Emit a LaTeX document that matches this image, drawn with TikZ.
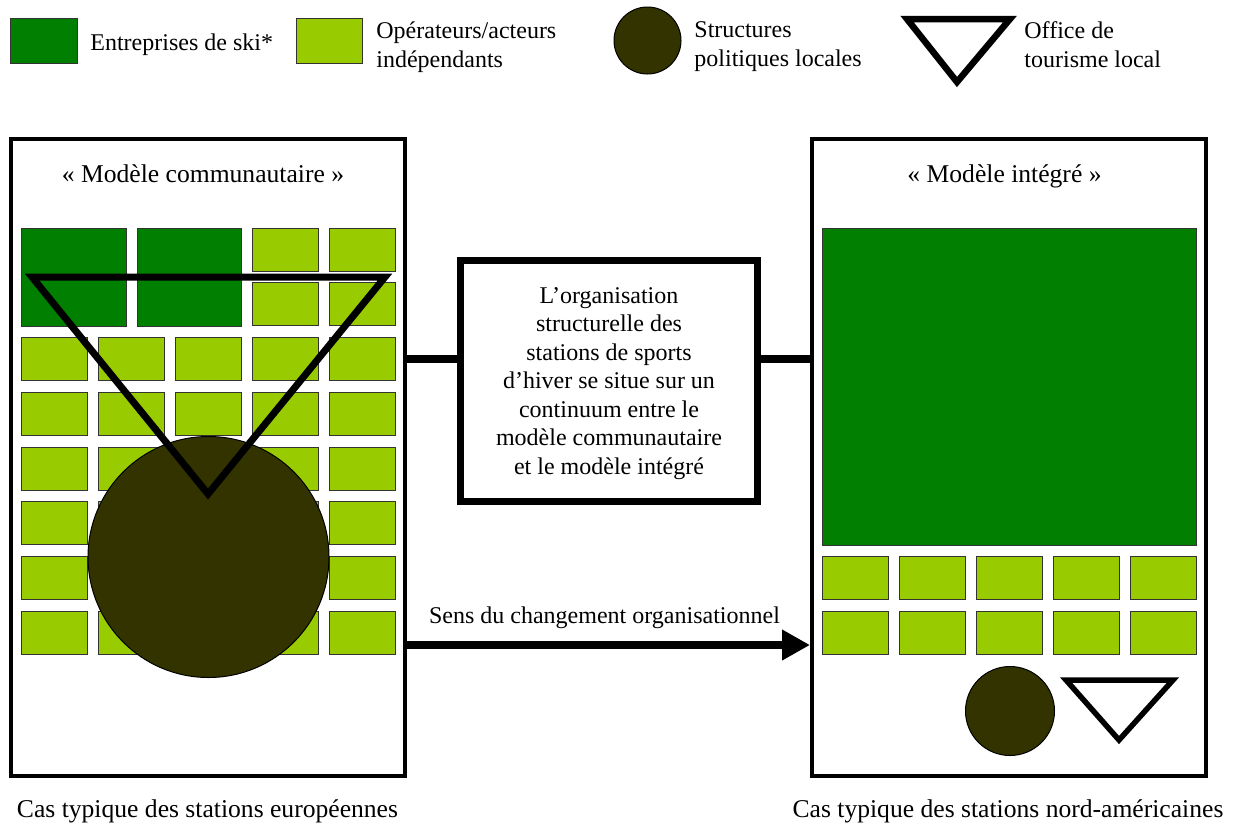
\documentclass[tikz,border=0pt]{standalone}
\usepackage{fontspec}
\setmainfont{Liberation Serif}
\usetikzlibrary{arrows.meta}
\definecolor{dgreen}{HTML}{007F00}
\definecolor{lgreen}{HTML}{99CC00}
\definecolor{brownish}{HTML}{333300}
\begin{document}
\begin{tikzpicture}[x=0.5pt,y=-0.5pt, font=\fontsize{12}{14.25}\selectfont,
 lbl/.style={inner sep=0pt},
 big/.style={inner sep=0pt, font=\fontsize{12.8}{15}\selectfont},
 frame/.style={draw, line width=2pt, rectangle, minimum width=197pt, minimum height=318.5pt, inner sep=0pt},
 ent/.style={draw=black!80, line width=0.6pt, fill=dgreen, rectangle, inner sep=0pt},
 opr/.style={draw=black!80, line width=0.6pt, fill=lgreen, rectangle, inner sep=0pt, minimum width=33pt, minimum height=21.5pt},
 pol/.style={draw=black, line width=0.5pt, fill=brownish, circle, inner sep=0pt},
 tri/.style={draw, line width=3.5pt, line join=miter},
 conn/.style={line width=4pt}
]
\useasboundingbox (0,0) rectangle (1236,825);

% legend
\node[ent, anchor=north west, minimum width=33.5pt, minimum height=22.5pt] (k1) at (10,18) {};
\node[lbl, anchor=base west] (k1t) at (90,50) {Entreprises de ski*};
\node[opr, anchor=north west, minimum width=33pt, minimum height=22.5pt] (k2) at (296,18) {};
\node[lbl, anchor=base west, align=left] (k2t) at (376,67) {Opérateurs/acteurs\\indépendants};
\node[pol, minimum size=33.5pt] (k3) at (647.5,40.5) {};
\node[lbl, anchor=base west, align=left] (k3t) at (694,66) {Structures\\politiques locales};
\draw[tri, line width=3.25pt] (907,19) -- (1010,19) -- (957,82) -- cycle;
\node[lbl, anchor=base west, align=left] (k4t) at (1024,67) {Office de\\tourisme local};

% left model
\foreach \r [count=\i] in {337,392,447,501,556,611}
  \foreach \c [count=\j] in {21,98,175,252,329}
    \node[opr, anchor=north west] (L\i-\j) at (\c,\r) {};
\node[ent, anchor=north west, minimum width=52.5pt, minimum height=49pt] (E1) at (21,228) {};
\node[ent, anchor=north west, minimum width=52pt, minimum height=49pt] (E2) at (137,228) {};
\node[opr, anchor=north west] (T1) at (252,228) {};
\node[opr, anchor=north west] (T2) at (329,228) {};
\node[opr, anchor=north west] (T3) at (252,282) {};
\node[opr, anchor=north west] (T4) at (329,282) {};
\node[pol, minimum size=120.5pt] (P1) at (208.5,557) {};
\draw[tri] (32,277) -- (385,277) -- (208,494) -- cycle;
\node[frame] (lbox) at (208,457.5) {};
\node[big, anchor=base] (t1) at (203,182) {« Modèle communautaire »};

% right model
\node[ent, anchor=north west, minimum width=187pt, minimum height=158.5pt] (EB) at (822,228) {};
\foreach \r [count=\i] in {556,611}
  \foreach \c [count=\j] in {822,899,976,1053,1130}
    \node[opr, anchor=north west] (R\i-\j) at (\c,\r) {};
\node[pol, minimum size=44.5pt] (P2) at (1010,711) {};
\draw[tri, line width=2.75pt] (1066,680) -- (1173,680) -- (1119,740) -- cycle;
\node[frame] (rbox) at (1009,457.5) {};
\node[big, anchor=base] (t2) at (1004.5,182) {« Modèle intégré »};

% centre
\node[draw, line width=3.5pt, minimum width=148.5pt, minimum height=120.5pt, align=center, inner sep=0pt, text depth=-2pt] (mid) at (609,381)
  {L’organisation\\structurelle des\\stations de sports\\d’hiver se situe sur un\\continuum entre le\\modèle communautaire\\et le modèle intégré};
\coordinate (cy) at (609,359);
\draw[conn] (lbox.east |- cy) -- (mid.west |- cy);
\draw[conn] (mid.east |- cy) -- (rbox.west |- cy);
\coordinate (ay) at (609,645);
\draw[conn, -{Triangle[length=14pt, width=14.5pt]}] (lbox.east |- ay) -- (rbox.west |- ay);
\node[lbl, anchor=base] (al) at (604.5,623) {Sens du changement organisationnel};

% captions
\node[big, anchor=base] (c1) at (207.5,817) {Cas typique des stations européennes};
\node[big, anchor=base] (c2) at (1008,817) {Cas typique des stations nord-américaines};
\end{tikzpicture}
\end{document}
